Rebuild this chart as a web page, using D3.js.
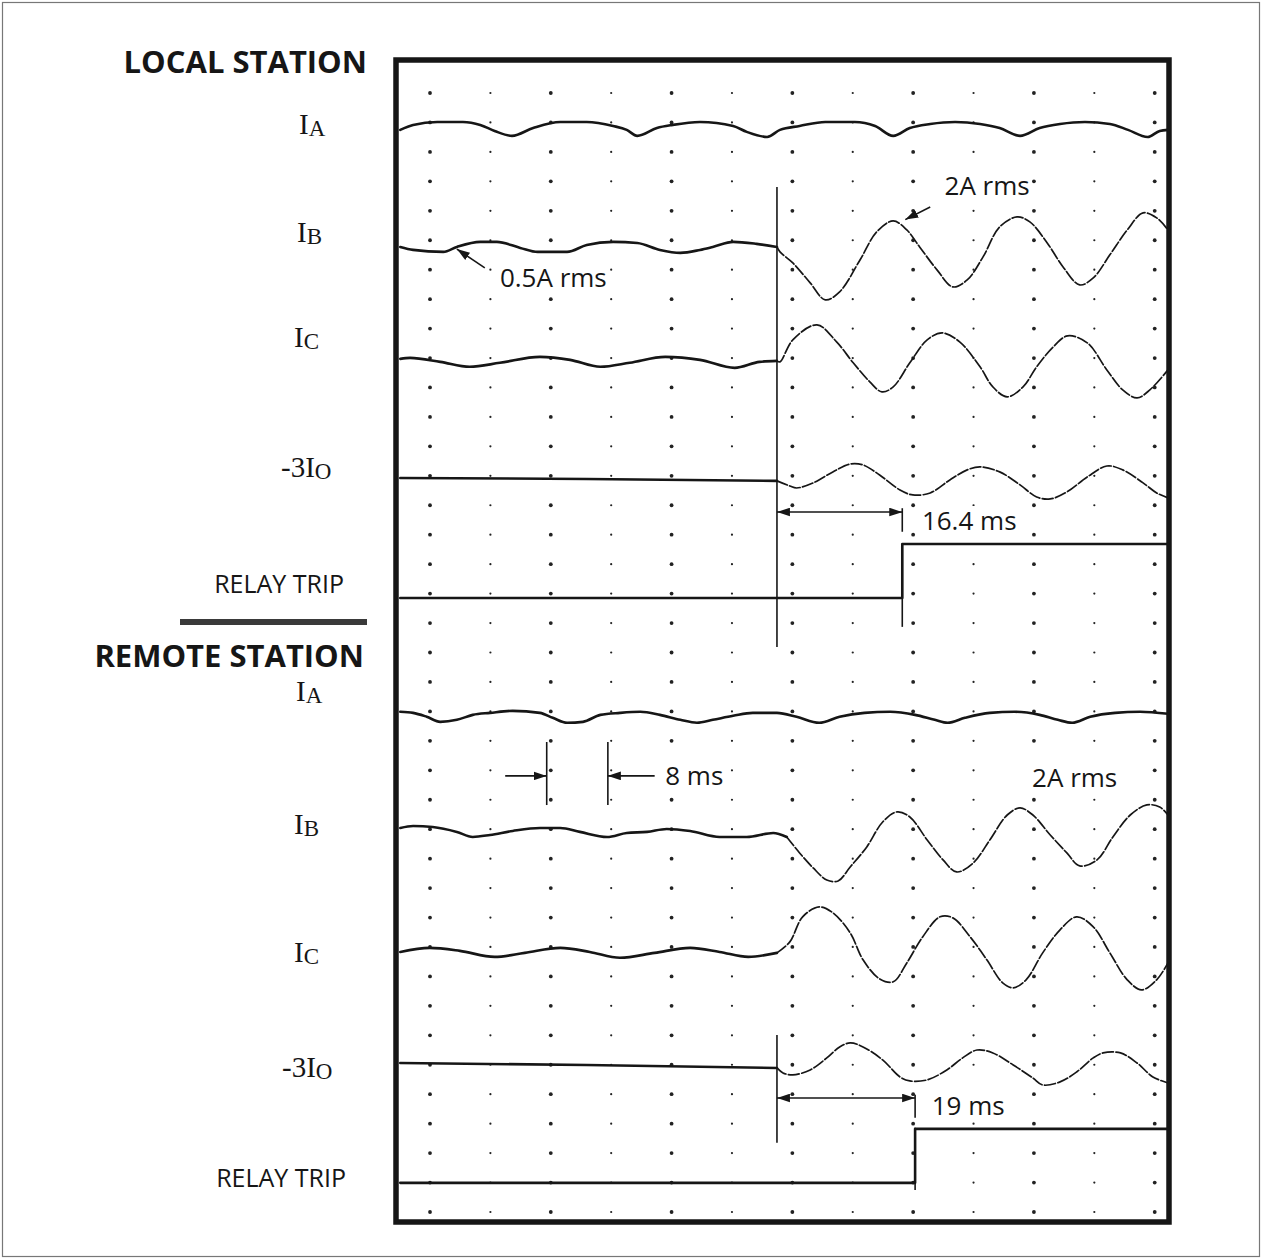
<!DOCTYPE html>
<html>
<head>
<meta charset="utf-8">
<script src="https://cdn.jsdelivr.net/npm/d3@7"></script>
<style>
  body { margin: 0; background: #fff; }
  svg { display: block; }
  .trace { fill: none; stroke: #161616; stroke-linejoin: round; stroke-linecap: round; }
  .sans { font-family: "Open Sans", sans-serif; fill: #161616; }
  .serif { font-family: "Liberation Serif", serif; fill: #161616; }
</style>
</head>
<body>
<div id="chart"></div>
<script>
// record runs 0..102 ms, fault starts at ~50.2 ms
const timeExtent = [0, 102];
const faultTime = 50.2;
const tripTime = [66.8, 68.5];          // local, remote (as drawn)
const tripLabel = ['16.4 ms', '19 ms'];

// samples: [ms, A] (A relative to each trace's own baseline)
const localIA = [[0.3,-0.07],[2.0,0.30],[5.2,0.52],[8.6,0.52],[10.9,0.30],[12.8,-0.15],[15.1,-0.52],[17.9,0.07],[21.5,0.52],[25.0,0.52],[28.5,0.22],[30.3,-0.07],[31.7,-0.52],[34.3,0.07],[36.4,0.30],[40.0,0.52],[44.4,0.22],[46.2,-0.22],[48.9,-0.60],[50.6,-0.07],[53.2,0.22],[56.6,0.52],[60.5,0.52],[63.2,0.22],[65.6,-0.52],[67.8,0.07],[70.5,0.37],[73.8,0.52],[77.1,0.37],[79.7,0.07],[82.4,-0.52],[85.0,0.07],[87.7,0.37],[91.0,0.52],[94.3,0.37],[96.7,-0.07],[99.3,-0.60],[100.9,-0.15],[102,-0.07]];
const localIB = [[0.3,0.07],[2.0,-0.15],[6.0,-0.30],[7.8,0.07],[10.9,0.45],[13.1,0.45],[16.2,0.0],[18.5,-0.30],[22.4,-0.30],[25.0,0.22],[28.5,0.45],[31.7,0.37],[34.7,-0.15],[37.4,-0.37],[40.0,-0.15],[41.7,0.07],[44.4,0.45],[47.5,0.30],[50.2,0.07],[50.6,-0.30],[52.3,-1.12],[54.6,-2.61],[56.6,-3.88],[58.5,-3.28],[61.2,-0.90],[63.4,1.19],[65.6,2.01],[67.4,1.34],[69.1,0.07],[71.4,-1.64],[73.5,-2.91],[75.4,-2.39],[77.5,-0.67],[79.7,1.57],[82.0,2.31],[83.7,1.94],[86.0,0.37],[88.1,-1.42],[90.3,-2.76],[92.1,-2.24],[94.3,-0.52],[96.6,1.34],[98.7,2.61],[100.5,2.24],[102,1.34]];
const localIC = [[0.3,0.22],[1.6,0.30],[5.6,0.0],[9.5,-0.37],[13.5,-0.07],[18.8,0.37],[22.8,0.15],[26.8,-0.37],[30.7,-0.07],[35.4,0.37],[40.0,0.15],[44.6,-0.45],[47.9,0.0],[50.2,0.07],[50.6,0.0],[52.3,1.64],[55.5,2.76],[58.1,1.49],[60.3,-0.07],[62.5,-1.49],[64.1,-2.24],[65.6,-1.87],[67.8,-0.07],[70.1,1.64],[72.1,2.16],[74.4,1.49],[77.1,-0.37],[78.8,-1.87],[80.7,-2.61],[82.8,-1.87],[84.6,-0.37],[86.8,1.12],[88.7,1.94],[91.3,1.42],[93.9,-0.60],[96.0,-2.09],[97.9,-2.69],[99.6,-2.09],[102,-0.60]];
const local3I0 = [[0.3,0.15],[25.0,0.07],[50.2,-0.07],[51.9,-0.45],[52.8,-0.60],[55.0,-0.22],[57.6,0.60],[59.9,1.19],[61.6,1.12],[63.8,0.37],[66.5,-0.75],[68.2,-1.12],[70.5,-0.97],[73.1,0.0],[75.4,0.75],[77.1,0.97],[79.7,0.60],[82.4,-0.37],[84.6,-1.27],[86.4,-1.42],[88.6,-0.90],[91.3,0.22],[93.9,1.04],[96.0,0.75],[98.7,-0.22],[100.5,-0.97],[102,-1.34]];

const remoteIA = [[0.3,0.30],[2.0,0.22],[3.8,-0.07],[5.6,-0.45],[7.8,-0.30],[9.9,0.07],[12.2,0.22],[15.2,0.37],[18.8,0.22],[20.5,-0.15],[22.4,-0.52],[24.5,-0.45],[26.8,0.07],[29.4,0.22],[32.1,0.30],[34.7,0.07],[37.4,-0.30],[39.6,-0.52],[41.7,-0.30],[44.4,0.0],[47.0,0.22],[50.2,0.22],[52.8,-0.07],[55.8,-0.52],[58.5,-0.07],[61.8,0.22],[65.2,0.30],[68.5,0.07],[71.1,-0.30],[72.8,-0.52],[75.1,-0.15],[78.4,0.22],[81.7,0.30],[85.0,0.07],[87.4,-0.30],[89.3,-0.52],[91.7,-0.07],[95.0,0.22],[98.3,0.30],[102,0.15]];
const remoteIB = [[0.3,0.22],[2.0,0.37],[4.6,0.30],[7.8,-0.07],[9.9,-0.45],[12.2,-0.30],[15.2,0.0],[18.8,0.22],[21.5,0.22],[24.1,-0.07],[27.7,-0.45],[30.3,-0.15],[33.0,-0.07],[35.6,0.15],[38.7,0.0],[42.6,-0.45],[46.2,-0.45],[49.7,-0.15],[51.5,-0.45],[53.2,-1.64],[55.0,-2.76],[56.8,-3.66],[58.3,-3.73],[59.9,-2.69],[62.1,-1.19],[64.2,0.67],[66.1,1.42],[67.8,1.04],[70.1,-0.67],[72.2,-2.16],[74.0,-3.06],[76.2,-2.39],[78.4,-0.67],[80.7,1.19],[82.4,1.72],[84.1,1.19],[86.4,-0.30],[88.6,-1.64],[90.3,-2.61],[92.6,-2.16],[94.7,-0.45],[97.0,1.19],[99.2,1.94],[100.9,1.79],[102,1.19]];
const remoteIC = [[0.3,0.07],[4.2,0.37],[8.2,0.15],[12.8,-0.30],[16.8,0.0],[21.5,0.37],[25.4,0.07],[29.4,-0.37],[34.0,0.0],[38.7,0.37],[42.6,0.07],[46.4,-0.30],[50.2,0.0],[51.9,0.82],[53.6,2.69],[55.8,3.43],[57.6,2.99],[59.9,1.49],[61.6,-0.52],[63.8,-1.94],[65.6,-2.16],[67.4,-0.75],[69.5,1.19],[71.8,2.69],[73.5,2.61],[75.8,1.19],[78.0,-0.52],[80.1,-2.24],[81.5,-2.61],[83.2,-2.01],[85.4,0.0],[87.7,1.72],[89.9,2.69],[92.1,1.94],[94.3,0.0],[96.6,-2.01],[98.5,-2.76],[100.5,-2.01],[102,-0.75]];
const remote3I0 = [[0.3,0.22],[25.0,0.07],[50.2,-0.15],[51.0,-0.52],[52.3,-0.67],[54.6,-0.30],[56.8,0.60],[58.5,1.42],[59.9,1.72],[61.6,1.42],[64.2,0.45],[66.5,-0.82],[67.8,-1.12],[70.1,-1.04],[72.7,-0.30],[74.8,0.60],[76.7,1.19],[78.8,0.97],[81.5,0.07],[84.1,-0.90],[85.4,-1.42],[87.7,-1.19],[89.9,-0.45],[92.1,0.60],[93.4,0.97],[95.7,0.97],[97.9,0.22],[100.0,-0.82],[102,-1.27]];

// relay trip contact: 0 = open, 1 = tripped
const localTrip = [[0.3,0],[tripTime[0],1],[102,1]];
const remoteTrip = [[0.3,0],[tripTime[1],1],[102,1]];

// traces: baseline in grid rows, onset = where the post-fault (thin) part starts
const channels = [
  {name:'I', sub:'A', data: localIA,   row: 1.22,  onset: null, lx: 299, ly: 134},
  {name:'I', sub:'B', data: localIB,   row: 5.26,  onset: 50.2, lx: 297, ly: 242},
  {name:'I', sub:'C', data: localIC,   row: 9.13,  onset: 50.2, lx: 294, ly: 347},
  {name:'-3I', sub:'O', data: local3I0, row: 13.14, onset: 50.2, lx: 281, ly: 477},
  {name:'I', sub:'A', data: remoteIA,  row: 21.15, onset: null, lx: 296, ly: 701},
  {name:'I', sub:'B', data: remoteIB,  row: 25.06, onset: 51.5, lx: 294, ly: 834},
  {name:'I', sub:'C', data: remoteIC,  row: 29.20, onset: 50.2, lx: 294, ly: 962},
  {name:'-3I', sub:'O', data: remote3I0, row: 33.04, onset: 50.2, lx: 282, ly: 1077}
];
const trips = [
  {data: localTrip,  row: 17.15, lx: 344, ly: 593},
  {data: remoteTrip, row: 37.01, lx: 346, ly: 1187}
];

const W = 1262, H = 1259;
const svg = d3.select('#chart').append('svg').attr('width', W).attr('height', H);

const x = d3.scaleLinear().domain(timeExtent).range([398, 1168]);
const row = d3.scaleLinear().domain([0, 38]).range([93, 1212]);
const amp = d3.scaleLinear().domain([-1, 1]).range([13.4, -13.4]);   // px offset per amp
const tripLevel = d3.scaleLinear().domain([0, 1]).range([0, -54]);

const defs = svg.append('defs');
defs.append('marker')
    .attr('id', 'arrow')
    .attr('viewBox', '0 0 12 8')
    .attr('refX', 12).attr('refY', 4)
    .attr('markerWidth', 13).attr('markerHeight', 9)
    .attr('markerUnits', 'userSpaceOnUse')
    .attr('orient', 'auto-start-reverse')
  .append('path')
    .attr('d', 'M0,0 L12,4 L0,8 Z')
    .attr('fill', '#161616');

// page frame
svg.append('rect')
    .attr('x', 2.5).attr('y', 2.5).attr('width', W - 5).attr('height', H - 5)
    .attr('fill', 'none').attr('stroke', '#777').attr('stroke-width', 1.2);

// dotted grid
const gridCols = d3.range(13).map(k => 4.24 + 8 * k);
const gridRows = d3.range(39);
const dots = [];
gridCols.forEach((t, i) => gridRows.forEach(r => dots.push({t, r, big: i % 2 === 0})));
svg.append('g').selectAll('circle')
    .data(dots)
    .join('circle')
    .attr('cx', d => x(d.t))
    .attr('cy', d => row(d.r))
    .attr('r', d => d.big ? 1.9 : 1.1)
    .attr('fill', '#222');

// frame of the record
svg.append('rect')
    .attr('x', 396).attr('y', 60).attr('width', 773).attr('height', 1162)
    .attr('fill', 'none').attr('stroke', '#161616').attr('stroke-width', 5.5);

// traces
const traceGroup = svg.append('g');
channels.forEach(ch => {
    const base = row(ch.row);
    const line = d3.line()
        .x(d => x(d[0]))
        .y(d => base + amp(d[1]));
    if (ch.onset === null) {
        traceGroup.append('path').classed('trace', true)
            .attr('d', line.curve(d3.curveMonotoneX)(ch.data)).attr('stroke-width', 2.6);
        return;
    }
    const pre = ch.data.filter(d => d[0] <= ch.onset);
    const post = ch.data.filter(d => d[0] >= ch.onset);
    traceGroup.append('path').classed('trace', true)
        .attr('d', line.curve(d3.curveMonotoneX)(pre)).attr('stroke-width', 2.6);
    traceGroup.append('path').classed('trace', true)
        .attr('d', line.curve(d3.curveCatmullRom.alpha(0.5))(post))
        .attr('stroke-width', 1.7)
        .attr('stroke-dasharray', '11 2.5');
});

trips.forEach(tr => {
    const base = row(tr.row);
    const line = d3.line()
        .x(d => x(d[0]))
        .y(d => base + tripLevel(d[1]))
        .curve(d3.curveStepAfter);
    traceGroup.append('path').classed('trace', true)
        .attr('d', line(tr.data)).attr('stroke-width', 2.6);
});

// fault inception markers and trip step extensions
const markGroup = svg.append('g').attr('stroke', '#161616').attr('stroke-width', 1.6);
const vlines = [
    [faultTime, 3.19, 18.81],
    [faultTime, 31.99, 35.65],
    [tripTime[0], 15.35, 18.13],
    [tripTime[1], 35.14, 37.25],
    [tripTime[0], 14.1, 14.9],
    [tripTime[1], 34.02, 34.8],
    [19.7, 22.04, 24.18],
    [27.8, 22.04, 24.18]
];
vlines.forEach(v => {
    markGroup.append('line')
        .attr('x1', x(v[0])).attr('x2', x(v[0]))
        .attr('y1', row(v[1])).attr('y2', row(v[2]));
});

// dimension arrows
function arrow(t1, r1, t2, r2, both) {
    const l = markGroup.append('line')
        .attr('x1', x(t1)).attr('y1', row(r1))
        .attr('x2', x(t2)).attr('y2', row(r2))
        .attr('marker-end', 'url(#arrow)');
    if (both) l.attr('marker-start', 'url(#arrow)');
}
arrow(faultTime, 14.23, tripTime[0], 14.23, true);
arrow(faultTime, 34.13, tripTime[1], 34.13, true);
arrow(14.2, 23.19, 19.7, 23.19, false);
arrow(34.0, 23.19, 27.8, 23.19, false);
arrow(11.5, 5.94, 7.8, 5.30, false);
arrow(70.5, 3.87, 67.2, 4.30, false);

// annotation texts, knocked out of the dot grid with a white box
const notes = [
    {t: 69.4, r: 14.84, text: tripLabel[0]},
    {t: 70.7, r: 34.70, text: tripLabel[1]},
    {t: 35.4, r: 23.50, text: '8 ms'},
    {t: 13.5, r: 6.59,  text: '0.5A rms'},
    {t: 72.4, r: 3.46,  text: '2A rms'},
    {t: 84.0, r: 23.57, text: '2A rms'}
];
const noteGroup = svg.append('g');
notes.forEach(n => {
    const g = noteGroup.append('g');
    const bg = g.append('rect').attr('fill', '#fff');
    const txt = g.append('text').classed('sans', true)
        .attr('x', x(n.t))
        .attr('y', row(n.r))
        .attr('font-size', 26)
        .text(n.text);
    const b = txt.node().getBBox();
    bg.attr('x', b.x - 2).attr('y', b.y + 4)
      .attr('width', b.width + 4).attr('height', b.height - 6);
});

// left side labels
svg.append('text').classed('sans', true)
    .attr('x', 367).attr('y', 73)
    .attr('text-anchor', 'end')
    .attr('font-size', 31).attr('font-weight', 700)
    .text('LOCAL STATION');
svg.append('text').classed('sans', true)
    .attr('x', 364).attr('y', 667)
    .attr('text-anchor', 'end')
    .attr('font-size', 31).attr('font-weight', 700)
    .text('REMOTE STATION');
svg.append('rect')
    .attr('x', 180).attr('y', 619).attr('width', 187).attr('height', 6)
    .attr('fill', '#3a3a3a');

channels.forEach(ch => {
    const t = svg.append('text').classed('serif', true)
        .attr('x', ch.lx).attr('y', ch.ly)
        .attr('font-size', 29);
    t.append('tspan').text(ch.name);
    t.append('tspan').attr('font-size', 23).attr('dy', 2).text(ch.sub);
});

trips.forEach(tr => {
    svg.append('text').classed('sans', true)
        .attr('x', tr.lx).attr('y', tr.ly)
        .attr('text-anchor', 'end')
        .attr('font-size', 25)
        .text('RELAY TRIP');
});
</script>
</body>
</html>
